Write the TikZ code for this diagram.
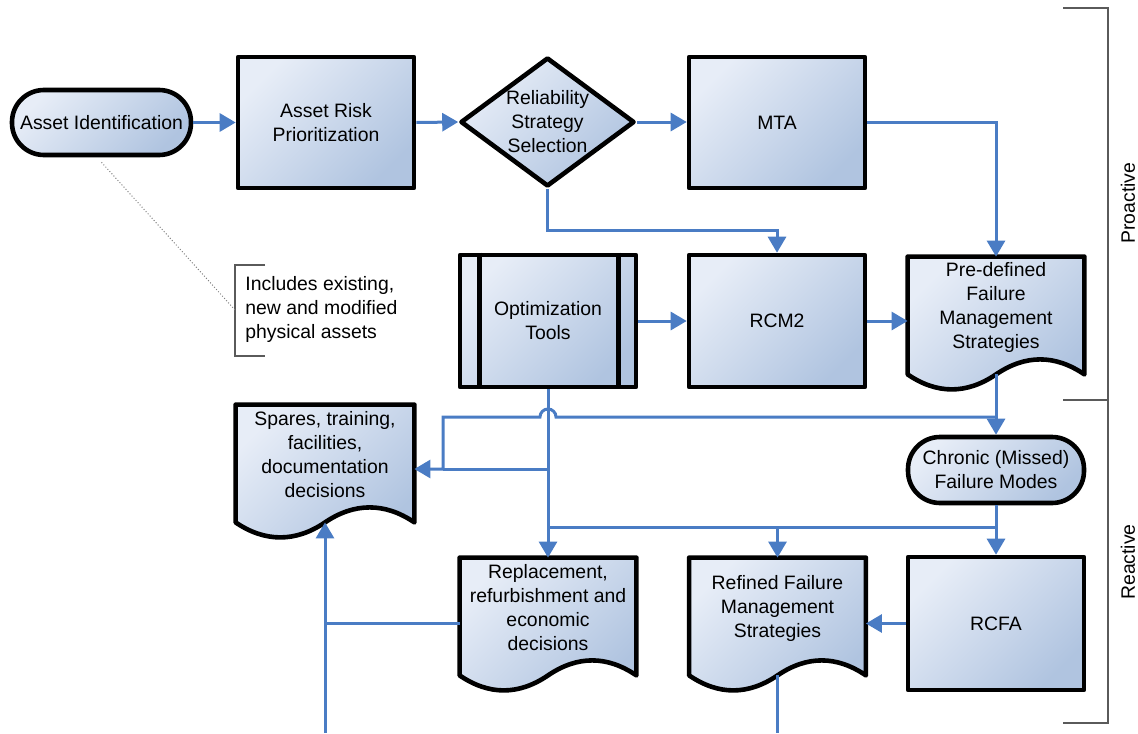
\documentclass[tikz,border=0pt]{standalone}
\usepackage{fontspec}
\setmainfont{Liberation Sans}
\usetikzlibrary{arrows.meta,shapes.geometric,backgrounds}
\definecolor{fa}{HTML}{E7EDF7}
\definecolor{fb}{HTML}{B0C4E0}
\definecolor{lblue}{HTML}{4A7CC4}
\definecolor{brk}{HTML}{5A5A5A}
\newcommand\docshape[1]{%
  \begin{scope}[on background layer]
  \shade[shfill, draw=black, line width=2.3pt, line join=round]
    (#1.north west) -- (#1.north east) -- ([yshift=-8.5pt]#1.south east)
    .. controls +(-14.7pt,10pt) and +(14.7pt,10pt) .. ([yshift=-8.5pt]#1.south)
    .. controls +(-14.7pt,-10pt) and +(14.7pt,-10pt) .. ([yshift=-8.5pt]#1.south west) -- cycle;
  \end{scope}}
\begin{document}
\begin{tikzpicture}[x=0.5pt,y=-0.5pt,
  every node/.style={font=\fontsize{9.7pt}{12pt}\selectfont, align=center, inner sep=0pt},
  shfill/.style={top color=fa, bottom color=fb, shading angle=45},
  box/.style={rectangle, draw=black, line width=2.3pt, line join=round, shfill, minimum width=88pt, minimum height=65.5pt},
  term/.style={rectangle, rounded corners=16pt, draw=black, line width=2.3pt, shfill, minimum height=32.5pt},
  dia/.style={diamond, draw=black, line width=2.3pt, line join=round, shfill, shape aspect=1.35, minimum width=87pt, minimum height=64.5pt},
  docnode/.style={rectangle, minimum width=88pt, minimum height=50pt},
  conn/.style={draw=lblue, line width=1.5pt},
  arr/.style={conn, -{Triangle[length=8pt,width=9pt]}},
  brkline/.style={draw=brk, line width=0.7pt},
]
\useasboundingbox (0,0) rectangle (1138,733);

% nodes
\node[term, minimum width=89.5pt] (aid) at (101.5,122.5) {Asset Identification};
\node[box] (arp) at (326,122.5) {Asset Risk\\Prioritization};
\node[dia] (rss) at (547.5,122) {Reliability\\Strategy\\Selection};
\node[box] (mta) at (777,122.5) {MTA};
\node[box, minimum height=66pt] (opt) at (548,321) {Optimization\\Tools};
\node[box, minimum height=66pt] (rcm) at (777,321) {RCM2};
\node[docnode] (pre) at (996,307) {Pre-defined\\Failure\\Management\\Strategies};
\node[docnode, minimum width=89pt] (spa) at (325,455) {Spares, training,\\facilities,\\documentation\\decisions};
\node[term, minimum width=88pt, minimum height=33pt] (chr) at (996,470) {Chronic (Missed)\\Failure Modes};
\node[docnode] (rep) at (548,608) {Replacement,\\refurbishment and\\economic\\decisions};
\node[docnode] (ref) at (777.5,608) {Refined Failure\\Management\\Strategies};
\node[box, minimum height=66.5pt] (rcfa) at (996,623.5) {RCFA};

\docshape{pre}
\docshape{spa}
\docshape{rep}
\docshape{ref}

% predefined process bars
\draw[line width=2.3pt] ([xshift=11pt]opt.north west) -- ([xshift=11pt]opt.south west);
\draw[line width=2.3pt] ([xshift=-10pt]opt.north east) -- ([xshift=-10pt]opt.south east);

% annotation
\node[anchor=west, align=left] (note) at (245,309) {Includes existing,\\new and modified\\physical assets};
\coordinate (nb) at (235,310);
\draw[brkline] (265,265) -- (235,265) -- (235,356) -- (265,356);
\draw[draw=gray, line width=0.5pt, densely dotted] ([yshift=-2.5pt]aid.south) -- (nb);

% side brackets
\draw[brkline] (1063,8) -- (1108,8) -- (1108,723) -- (1063,723);
\draw[brkline] (1063,400) -- (1108,400);
\node[rotate=90] (pro) at (1128,203) {Proactive};
\node[rotate=90] (rea) at (1128,562) {Reactive};

% helper coordinates
\coordinate (preb) at ([yshift=-8.5pt]pre.south);
\coordinate (spab) at ([yshift=-8.5pt]spa.south);
\coordinate (refb) at ([yshift=-8.5pt]ref.south);
\coordinate (k1) at (777,230);
\coordinate (h1) at (996,417);
\coordinate (h2) at (443,417);
\coordinate (h3) at (443,469);
\coordinate (g1) at (996,527);
\coordinate (bottom) at (0,733);

% connectors
\draw[arr] (aid.east) -- (arp.west);
\draw[arr] (arp.east) -- (rss.west);
\draw[arr] (rss.east) -- (rss.east -| mta.west);
\draw[arr] (rss.south) |- (k1) -- (rcm.north);
\draw[arr] (mta.east) -| (pre.north);
\draw[arr] (opt.east) -- (rcm.west);
\draw[arr] (rcm.east) -- (rcm.east -| pre.west);
\draw[arr] (preb) -- (chr.north);
\draw[arr] (h1) -- ([xshift=4pt]h1 -| opt.south) arc[start angle=0,end angle=180,radius=4pt] -- (h2) -- (h3) -- (h3 -| spa.east);
\draw[arr] (opt.south) -- (rep.north);
\draw[conn] (opt.south |- h3) -- (h3);
\draw[conn] (opt.south |- g1) -- (g1);
\draw[arr] (chr.south) -- (rcfa.north);
\draw[arr] (ref.north |- g1) -- (ref.north);
\draw[arr] (rcfa.west) -- (rcfa.west -| ref.east);
\draw[arr] (spab |- bottom) -- (spab);
\draw[conn] (rep.west |- rcfa.west) -- (spab |- rcfa.west);
\draw[conn] (refb) -- (refb |- bottom);
\end{tikzpicture}
\end{document}
